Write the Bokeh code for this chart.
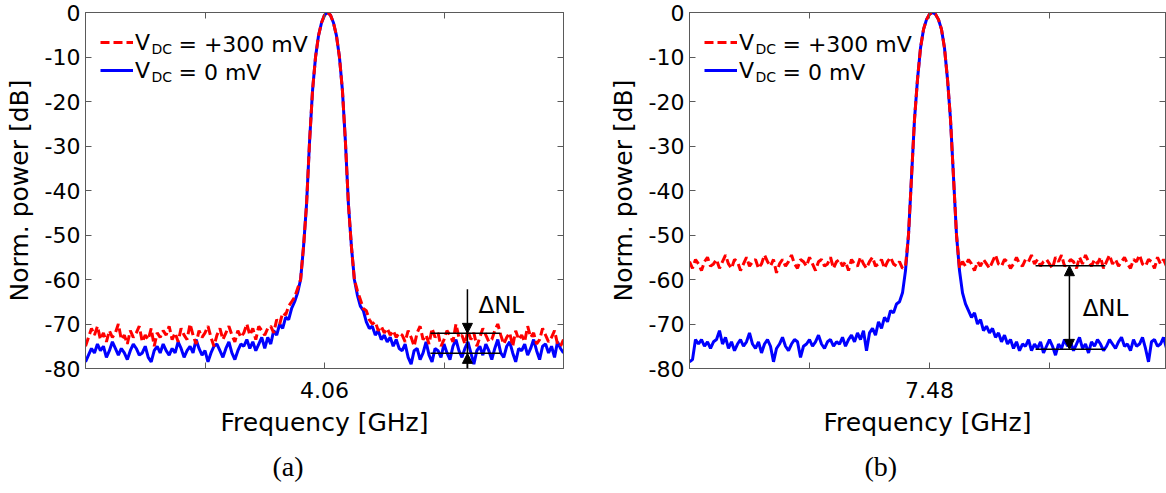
import numpy as np
from bokeh.plotting import figure
from bokeh.layouts import row
from bokeh.models import (Range1d, FixedTicker, LinearAxis, Legend, LegendItem,
                          Label, Arrow, NormalHead, Title)
from bokeh.embed import file_html
from bokeh.resources import INLINE

# ---------------- data ----------------
n_pts = 161
# panel (a): around 4.06 GHz
freq_a = np.linspace(4.05, 4.07, n_pts)
xticks_a = [4.055, 4.06, 4.065]
xlabels_a = ["", "4.06", ""]

blue_a_left = [-78.5, -77.0, -75.5, -76.5, -74.5, -76.0, -75.0, -77.5, -76.0, -74.0,
               -75.5, -77.0, -75.5, -76.5, -78.0, -76.0, -74.5, -75.5, -77.0, -76.5,
               -75.0, -77.5, -78.5, -76.0, -75.0, -76.5, -74.5, -76.0, -77.0, -75.5,
               -76.5, -74.0, -75.5, -77.5, -76.0, -75.0, -76.5, -73.5, -75.5, -77.0,
               -76.0, -78.5, -76.5, -75.0, -74.5, -76.0, -77.5, -75.5, -74.0, -76.5,
               -78.0, -76.0, -74.5, -75.0, -73.5, -75.5, -74.0, -76.0, -74.5, -73.0]
red_a_left = [-75.0, -73.0, -71.0, -72.5, -70.5, -73.5, -72.0, -74.0, -71.5, -73.0,
              -72.0, -70.0, -73.5, -72.5, -74.5, -71.5, -73.0, -72.0, -70.5, -74.0,
              -72.5, -73.5, -71.0, -75.0, -72.0, -73.0, -71.5, -72.5, -70.5, -73.5,
              -72.0, -74.0, -71.0, -72.5, -73.5, -70.0, -72.5, -74.5, -71.5, -73.0,
              -72.0, -70.5, -73.0, -75.0, -72.5, -71.0, -73.5, -72.0, -70.5, -72.5,
              -74.0, -71.5, -73.0, -72.0, -70.0, -72.5, -71.0, -73.5, -70.5, -71.5]
blue_a_skirt_l = [-75.5, -73.0, -74.5, -71.5, -72.5, -70.0, -71.0, -68.5, -69.0, -66.5, -65.0, -63.0]
red_a_skirt_l = [-72.5, -71.0, -70.5, -72.0, -69.0, -70.0, -67.5, -68.0, -66.0, -65.0, -64.0, -62.0]
peak_a = [-60.0, -52.5, -43.0, -29.0, -17.5, -10.0, -5.2, -2.3, -0.6, 0.0,
          -0.6, -2.3, -5.2, -10.0, -17.5, -29.0, -43.0, -52.5, -60.0]
blue_a_skirt_r = [-63.5, -66.0, -67.0, -69.5, -71.0, -70.5, -72.5, -71.5, -73.5, -72.5,
                  -74.0, -73.0, -75.0, -73.5, -75.5]
red_a_skirt_r = [-62.5, -64.5, -66.5, -67.0, -69.0, -70.0, -69.5, -71.5, -70.5, -72.0,
                 -71.0, -72.5, -71.5, -73.0, -72.0]
blue_a_right = [-76.0, -74.5, -77.5, -79.0, -76.0, -75.5, -78.0, -76.5, -74.0, -77.0,
                -78.5, -75.5, -76.0, -77.5, -74.5, -76.5, -78.0, -75.0, -73.5, -76.0,
                -77.5, -75.5, -74.0, -76.5, -79.0, -76.0, -75.0, -77.0, -74.5, -76.0,
                -78.0, -75.5, -73.5, -76.5, -77.5, -75.0, -74.0, -76.5, -78.5, -75.5,
                -76.0, -74.5, -77.0, -75.5, -73.5, -76.0, -78.0, -75.0, -74.5, -76.5,
                -75.0, -77.5, -74.0, -75.5, -76.5]
red_a_right = [-72.5, -74.0, -71.5, -73.0, -75.0, -72.0, -70.5, -73.5, -72.5, -74.5,
               -71.0, -73.0, -72.0, -75.0, -73.5, -71.5, -72.5, -74.0, -70.0, -73.0,
               -72.5, -74.5, -71.5, -73.5, -72.0, -75.0, -73.0, -71.0, -72.5, -74.0,
               -73.5, -71.5, -70.0, -72.5, -74.5, -73.0, -72.0, -75.0, -71.5, -73.5,
               -72.5, -74.0, -70.5, -73.0, -72.0, -74.5, -73.5, -71.0, -72.5, -74.0,
               -73.0, -71.5, -74.5, -75.0, -73.5]

# panel (b): around 7.48 GHz
freq_b = np.linspace(7.47, 7.49, n_pts)
xticks_b = [7.475, 7.48, 7.485]
xlabels_b = ["", "7.48", ""]

blue_b_left = [-78.5, -78.0, -73.5, -74.5, -73.5, -75.0, -74.0, -75.5, -74.0, -73.5,
               -71.5, -74.5, -73.0, -75.5, -74.0, -76.0, -74.5, -73.5, -75.0, -74.0,
               -72.0, -74.5, -75.5, -74.0, -76.5, -74.5, -73.5, -75.0, -78.5, -75.5,
               -74.5, -73.0, -75.0, -76.0, -74.5, -73.5, -74.0, -77.5, -75.0, -74.5,
               -73.5, -75.0, -74.0, -72.5, -74.5, -75.5, -74.0, -73.5, -75.0, -74.0]
blue_b_skirt_l = [-74.5, -73.0, -75.0, -73.5, -72.5, -74.0, -72.0, -73.5, -71.5, -76.0,
                  -72.0, -71.0, -72.5, -69.5, -71.0, -68.5, -69.5, -67.0, -67.5, -65.5, -65.0]
peak_b = [-63.0, -58.0, -50.0, -37.0, -24.0, -15.0, -8.0, -3.8, -1.6, -0.4, 0.0,
          -0.4, -1.6, -3.8, -8.0, -15.0, -24.0, -37.0, -50.0, -58.0, -63.0]
blue_b_skirt_r = [-65.5, -67.0, -68.5, -67.5, -70.0, -69.0, -71.5, -70.5, -72.0, -71.0,
                  -73.0, -72.0, -74.0, -72.5, -74.5, -73.5, -75.5, -74.0, -76.0, -74.5,
                  -75.0, -73.5, -76.0, -74.5]
blue_b_right = [-75.5, -74.0, -76.5, -75.0, -73.5, -75.0, -77.0, -74.5, -75.5, -73.5,
                -75.0, -74.0, -76.0, -74.5, -73.0, -75.5, -74.5, -76.5, -74.0, -75.0,
                -73.5, -74.5, -76.0, -75.0, -73.5, -74.5, -75.5, -74.0, -73.0, -75.0,
                -74.5, -76.0, -73.5, -75.0, -74.5, -73.0, -75.5, -78.5, -74.0, -73.5,
                -75.0, -74.5, -73.0, -75.5, -74.0]
red_b_left = [-56.0, -57.5, -55.5, -56.5, -58.0, -56.0, -55.0, -57.0, -56.5, -55.5,
              -57.5, -56.0, -54.5, -56.5, -57.5, -55.5, -56.0, -58.0, -56.5, -55.0,
              -57.0, -56.0, -55.5, -57.5, -56.5, -54.5, -56.0, -57.0, -55.5, -58.5,
              -56.5, -55.5, -57.0, -56.0, -54.5, -56.5, -57.5, -55.5, -56.0, -57.0,
              -55.0, -56.5, -58.0, -56.0, -55.5, -57.0, -56.5, -55.0, -57.5, -56.0,
              -55.5, -57.0, -56.0, -58.0, -55.5, -56.5, -57.0, -55.0, -56.5, -57.5,
              -56.0, -55.0, -57.0, -56.5, -55.5, -57.5, -56.0, -55.0, -56.5, -57.0,
              -56.0, -57.5, -57.0]
red_b_right = [-57.5, -56.0, -57.0, -55.5, -56.5, -58.0, -56.0, -57.0, -55.5, -56.5,
               -57.5, -56.0, -54.5, -56.5, -57.0, -55.5, -56.0, -57.5, -56.5, -55.0,
               -56.5, -57.0, -55.5, -56.0, -54.5, -56.5, -55.5, -57.0, -56.0, -55.5,
               -56.5, -57.5, -55.0, -56.0, -54.5, -57.0, -56.5, -55.5, -56.0, -57.5,
               -55.0, -56.5, -54.5, -56.0, -57.0, -55.5, -56.5, -55.0, -57.5, -56.0,
               -54.5, -56.5, -55.5, -57.0, -56.0, -55.0, -56.5, -57.5, -55.5, -56.0,
               -54.5, -56.5, -57.0, -55.5, -56.0, -57.5, -55.0, -56.5, -55.5, -57.0,
               -56.5]

yticks = [-80, -70, -60, -50, -40, -30, -20, -10, 0]
ylabels = ["-80", "-70", "-60", "-50", "-40", "-30", "-20", "-10", "0"]
legend_texts = ["= +300 mV", "= 0 mV"]

# noise-level markers (dB) and positions (GHz)
dnl_a_x, dnl_a_lines, dnl_a_levels = 4.06598, (4.06443, 4.06736), (-72.1, -76.6)
dnl_a_top = -62.2
dnl_a_text = (4.06644, -65.8)
dnl_b_x, dnl_b_lines, dnl_b_levels = 7.48583, (7.48442, 7.48733), (-56.9, -75.7)
dnl_b_text = (7.48638, -66.3)

blue_a = blue_a_left + blue_a_skirt_l + peak_a + blue_a_skirt_r + blue_a_right
red_a = red_a_left + red_a_skirt_l + peak_a + red_a_skirt_r + red_a_right
blue_b = blue_b_left + blue_b_skirt_l + peak_b + blue_b_skirt_r + blue_b_right
red_b = red_b_left + peak_b[2:-2] + red_b_right

FONT = "DejaVu Sans"
GRAY = "#5a5a5a"
RED = "#ff0000"
BLUE = "#0000ff"


def make_panel(freq, blue, red, xr, xticks, xlabels, caption, cap_off, mb_left, mb_right, fw):
    p = figure(frame_width=fw, frame_height=356, x_range=Range1d(*xr), y_range=Range1d(-80, 0),
               output_backend="svg", toolbar_location=None,
               min_border_left=mb_left, min_border_right=mb_right,
               min_border_top=12, min_border_bottom=125)
    p.grid.visible = False
    p.outline_line_color = GRAY
    p.outline_line_width = 1
    p.background_fill_color = "white"
    p.border_fill_color = "white"

    xt = FixedTicker(ticks=xticks)
    yt = FixedTicker(ticks=yticks)
    xa = p.xaxis[0]
    xa.ticker = xt
    xa.major_label_overrides = dict(zip(xticks, xlabels))
    ya = p.yaxis[0]
    ya.ticker = yt
    ya.major_label_overrides = dict(zip(yticks, ylabels))
    for ax in (xa, ya):
        ax.major_tick_in = 6
        ax.major_tick_out = 0
        ax.minor_tick_line_color = None
        ax.axis_line_color = GRAY
        ax.major_tick_line_color = GRAY
        ax.major_label_text_font = FONT
        ax.major_label_text_font_size = "22px"
        ax.major_label_text_color = "black"
        ax.axis_label_text_font = FONT
        ax.axis_label_text_font_size = "25px"
        ax.axis_label_text_font_style = "normal"
        ax.axis_label_text_color = "black"
    xa.axis_label = "Frequency [GHz]"
    xa.major_label_standoff = 13
    xa.axis_label_standoff = 7
    ya.axis_label = "Norm. power [dB]"
    ya.major_label_standoff = 5
    ya.axis_label_standoff = 8

    top = LinearAxis(ticker=xt, major_label_overrides={t: "" for t in xticks},
                     major_label_text_font_size="22px", major_label_standoff=0,
                     major_tick_in=6, major_tick_out=0, minor_tick_line_color=None,
                     axis_line_color=GRAY, major_tick_line_color=GRAY)
    right = LinearAxis(ticker=yt, major_label_overrides={t: "" for t in yticks},
                       major_label_text_font_size="22px", major_label_standoff=0,
                       major_tick_in=6, major_tick_out=0, minor_tick_line_color=None,
                       axis_line_color=GRAY, major_tick_line_color=GRAY)
    p.add_layout(top, "above")
    p.add_layout(right, "right")

    rb = p.line(freq, blue, line_color=BLUE, line_width=3)
    rr = p.line(freq, red, line_color=RED, line_width=3, line_dash="9 4")

    leg = Legend(items=[LegendItem(label="V", renderers=[rr]), LegendItem(label="V", renderers=[rb])],
                 location=(15, 284), glyph_width=33, glyph_height=28, spacing=0, padding=0, margin=0,
                 border_line_color=None, background_fill_alpha=0,
                 label_text_font=FONT, label_text_font_size="22px", label_text_color="black",
                 label_standoff=2, label_width=10, label_height=28)
    p.add_layout(leg)

    for base_y, txt in zip((324, 296), legend_texts):
        p.add_layout(Label(x=66, y=base_y - 4, x_units="screen", y_units="screen", text="DC",
                           text_font=FONT, text_font_size="14px", text_baseline="alphabetic",
                           text_color="black"))
        p.add_layout(Label(x=93, y=base_y, x_units="screen", y_units="screen", text=txt,
                           text_font=FONT, text_font_size="22px", text_baseline="alphabetic",
                           text_color="black"))

    p.add_layout(Title(text=caption, align="left", offset=cap_off, standoff=18,
                       text_font="Liberation Serif", text_font_size="28px",
                       text_font_style="normal", text_color="black"), "below")
    return p


pa = make_panel(freq_a, blue_a, red_a, (4.05, 4.07), xticks_a, xlabels_a, "(a)", 187, 85, 37, 478)
pb = make_panel(freq_b, blue_b, red_b, (7.47, 7.489833), xticks_b, xlabels_b, "(b)", 175, 89, 1, 476)

# delta NL annotations, panel (a)
for lv in dnl_a_levels:
    pa.add_layout(Arrow(end=None, x_start=dnl_a_lines[0], y_start=lv, x_end=dnl_a_lines[1], y_end=lv,
                        line_color="black", line_width=1.5))
pa.add_layout(Arrow(end=NormalHead(size=10, fill_color="black", line_color="black"),
                    x_start=dnl_a_x, y_start=dnl_a_top, x_end=dnl_a_x, y_end=dnl_a_levels[0],
                    line_color="black", line_width=1.5))
pa.add_layout(Arrow(end=None, x_start=dnl_a_x, y_start=dnl_a_levels[0], x_end=dnl_a_x, y_end=-80,
                    line_color="black", line_width=1.5))
pa.add_layout(Arrow(end=NormalHead(size=10, fill_color="black", line_color="black"),
                    x_start=dnl_a_x, y_start=-80, x_end=dnl_a_x, y_end=dnl_a_levels[1],
                    line_color="black", line_width=1.5))
pa.add_layout(Label(x=dnl_a_text[0], y=dnl_a_text[1], text="ΔNL", text_font=FONT,
                    text_font_size="23px", text_baseline="middle", text_color="black"))

# delta NL annotations, panel (b)
for lv in dnl_b_levels:
    pb.add_layout(Arrow(end=None, x_start=dnl_b_lines[0], y_start=lv, x_end=dnl_b_lines[1], y_end=lv,
                        line_color="black", line_width=1.5))
pb.add_layout(Arrow(start=NormalHead(size=10, fill_color="black", line_color="black"),
                    end=NormalHead(size=10, fill_color="black", line_color="black"),
                    x_start=dnl_b_x, y_start=dnl_b_levels[0], x_end=dnl_b_x, y_end=dnl_b_levels[1],
                    line_color="black", line_width=1.5))
pb.add_layout(Label(x=dnl_b_text[0], y=dnl_b_text[1], text="ΔNL", text_font=FONT,
                    text_font_size="23px", text_baseline="middle", text_color="black"))

layout = row(pa, pb, spacing=0)
open("out.html", "w").write(file_html(layout, INLINE))
